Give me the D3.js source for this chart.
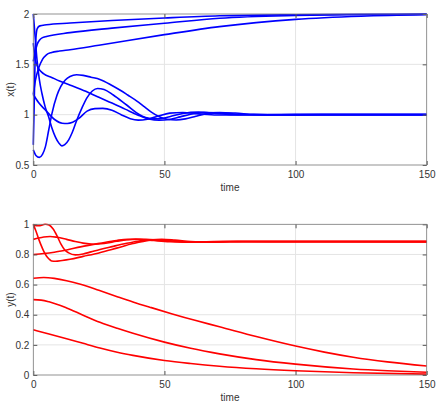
<!DOCTYPE html>
<html>
<head>
<meta charset="utf-8">
<script src="https://cdn.jsdelivr.net/npm/d3@7"></script>
<style>
  body { margin: 0; background: #fff; }
  text { font-family: "Liberation Sans", Arial, sans-serif; }
</style>
</head>
<body>
<div id="chart"></div>
<script>
// tick labels
const timeTicks = [0, 50, 100, 150]
const xTicks = [0.5, 1, 1.5, 2]
const yTicks = [0, 0.2, 0.4, 0.6, 0.8, 1]

// x(t), the runs that go up to 2
const xRun1 = [[0,0.70],[0.3,1.05],[0.6,1.45],[1,1.76],[1.5,1.855],[2.5,1.882],[5,1.893],[14,1.91],[30,1.935],[50,1.96],[71,1.982],[100,1.993],[125,1.997],[150,1.999]]
const xRun2 = [[0,1.53],[0.7,1.62],[1.5,1.7],[2.5,1.745],[3.5,1.765],[5,1.777],[14,1.815],[30,1.86],[50,1.908],[71,1.958],[100,1.985],[125,1.993],[150,1.997]]
const xRun3 = [[0,1.2],[0.8,1.34],[2,1.46],[3.5,1.55],[5,1.595],[7,1.618],[10,1.632],[14,1.645],[25,1.69],[50,1.795],[71,1.875],[100,1.947],[125,1.978],[150,1.992]]
// x(t), the runs that settle at 1
const xRun4 = [[0,0.65],[1,0.595],[2.3,0.576],[3.5,0.605],[4.6,0.68],[5.9,0.85],[7.1,1.01],[9,1.19],[10.5,1.28],[12.2,1.345],[14,1.38],[16.5,1.396],[19,1.39],[22,1.372],[25.4,1.35],[30,1.29],[33,1.245],[36,1.195],[39.5,1.135],[42,1.085],[45,1.025],[48,0.98],[51,0.955],[54.5,0.947],[58,0.958],[62,0.985],[66,1.01],[71,1.022],[77,1.016],[84,1.003],[95,0.997],[110,1.0],[150,1.0]]
const xRun5 = [[0,2.0],[0.5,1.84],[1.4,1.55],[2.3,1.35],[3.3,1.21],[4.5,1.08],[5.9,0.975],[7,0.875],[8.4,0.78],[9.7,0.72],[10.9,0.69],[12,0.702],[13.5,0.75],[14.8,0.82],[16.5,0.94],[18.6,1.07],[20.5,1.17],[22.5,1.235],[24.5,1.26],[27,1.25],[30.5,1.195],[35.6,1.096],[40.7,0.997],[44.5,0.962],[48,0.958],[52,0.98],[57,1.012],[63,1.025],[70,1.012],[78,0.997],[88,0.999],[100,1.0],[150,1.0]]
const xRun6 = [[0,1.2],[2,1.12],[4.6,1.046],[8.4,0.947],[11,0.915],[13,0.913],[15,0.925],[17.5,0.965],[20.5,1.035],[23.5,1.06],[26.5,1.063],[30,1.045],[33.5,1.0],[37,0.96],[40,0.946],[43.5,0.955],[47.5,0.985],[52,1.015],[57,1.022],[63,1.008],[70,0.996],[80,1.0],[150,1.0]]
const xRun7 = [[0,1.71],[0.8,1.545],[2,1.46],[4,1.405],[7,1.37],[10,1.335],[15,1.285],[20,1.232],[25,1.172],[30,1.115],[35,1.055],[40,0.995],[44,0.958],[48,0.944],[52,0.952],[56,0.978],[60,1.005],[65,1.02],[71,1.018],[78,1.004],[88,0.997],[100,1.0],[150,1.0]]

// y(t), the runs that die out
const yRun1 = [[0,0.3],[6,0.272],[12.7,0.241],[19,0.21],[25.4,0.179],[32,0.151],[38,0.13],[50,0.096],[60,0.076],[71,0.058],[85,0.041],[100,0.028],[122,0.015],[150,0.006]]
const yRun2 = [[0,0.5],[3,0.497],[6,0.486],[12.7,0.445],[19,0.397],[25.4,0.35],[32,0.31],[38,0.277],[50,0.218],[60,0.177],[71,0.14],[85,0.102],[100,0.072],[122,0.04],[135,0.028],[150,0.018]]
const yRun3 = [[0,0.642],[4,0.647],[8,0.641],[12.7,0.626],[18,0.602],[25,0.562],[32,0.52],[38,0.485],[45,0.447],[53,0.405],[62,0.361],[71,0.32],[85,0.255],[100,0.192],[111,0.152],[122,0.118],[135,0.087],[150,0.06]]
// y(t), the runs that settle near 0.885
const yRun4 = [[0,0.9],[2,0.909],[4,0.916],[6.4,0.919],[9,0.914],[12.7,0.9],[16,0.886],[19,0.875],[23,0.868],[27,0.873],[31.8,0.887],[35.6,0.897],[39,0.902],[43,0.901],[48,0.895],[54,0.887],[60,0.882],[67,0.883],[75,0.886],[85,0.885],[150,0.885]]
const yRun5 = [[0,1.0],[1.2,0.99],[2.5,0.991],[4.5,1.0],[6,0.995],[7.5,0.97],[9,0.925],[10.5,0.87],[12,0.83],[13.5,0.81],[16,0.797],[19,0.803],[22,0.817],[25.4,0.833],[30,0.852],[35.6,0.874],[40,0.888],[44,0.896],[48,0.896],[52,0.89],[58,0.883],[65,0.882],[72,0.885],[80,0.886],[90,0.885],[150,0.885]]
const yRun6 = [[0,0.8],[4,0.806],[8,0.815],[12.7,0.83],[18,0.85],[25.4,0.874],[31.8,0.893],[36,0.9],[40.7,0.899],[46,0.892],[52,0.885],[58,0.882],[66,0.884],[75,0.886],[150,0.885]]
const yRun7 = [[0,1.0],[1,0.955],[2,0.905],[3,0.86],[4,0.82],[5,0.79],[6,0.77],[7,0.757],[8.5,0.755],[11,0.76],[14,0.768],[19,0.787],[25,0.81],[31.8,0.842],[38,0.872],[44.5,0.895],[49,0.9],[54,0.895],[60,0.886],[67,0.882],[75,0.884],[85,0.886],[150,0.885]]

const xSeries = [xRun1, xRun2, xRun3, xRun4, xRun5, xRun6, xRun7]
const ySeries = [yRun1, yRun2, yRun3, yRun4, yRun5, yRun6, yRun7]

const width = 445
const height = 414
const left = 33.3
const right = 426.7

const svg = d3.select("#chart").append("svg")
    .attr("width", width)
    .attr("height", height)

const x = d3.scaleLinear()
    .domain([0, 150])
    .range([left, right])

function panel(yDomain, top, bottom, ticks, series, color, ylabel) {
    const y = d3.scaleLinear()
        .domain(yDomain)
        .range([bottom, top])

    const g = svg.append("g")

    // grid
    g.append("g")
        .selectAll("line")
        .data(timeTicks.slice(1, -1))
        .join("line")
        .attr("x1", d => x(d)).attr("x2", d => x(d))
        .attr("y1", top).attr("y2", bottom)
        .attr("stroke", "#e4e4e4")
    g.append("g")
        .selectAll("line")
        .data(ticks.slice(1, -1))
        .join("line")
        .attr("y1", d => y(d)).attr("y2", d => y(d))
        .attr("x1", left).attr("x2", right)
        .attr("stroke", "#e4e4e4")

    const line = d3.line()
        .x(d => x(d[0]))
        .y(d => y(d[1]))
        .curve(d3.curveMonotoneX)

    g.append("g")
        .selectAll("path")
        .data(series)
        .join("path")
        .attr("d", line)
        .attr("fill", "none")
        .attr("stroke", color)
        .attr("stroke-width", 1.6)

    const fmt = d => String(d)

    const axes = [
        [d3.axisBottom(x).tickValues(timeTicks).tickFormat(fmt), `translate(0,${bottom})`],
        [d3.axisTop(x).tickValues(timeTicks).tickFormat(""), `translate(0,${top})`],
        [d3.axisLeft(y).tickValues(ticks).tickFormat(fmt), `translate(${left},0)`],
        [d3.axisRight(y).tickValues(ticks).tickFormat(""), `translate(${right},0)`]
    ]
    axes.forEach(([ax, tr], i) => {
        const a = g.append("g")
            .attr("transform", tr)
            .call(ax.tickSizeInner(-4).tickSizeOuter(0).tickPadding(i == 0 ? 6 : 4))
        a.select(".domain").remove()
        a.selectAll("line").attr("stroke", "#555")
        a.selectAll("text").attr("fill", "#333").attr("font-size", 10)
    })

    g.append("rect")
        .attr("x", left).attr("y", top)
        .attr("width", right - left).attr("height", bottom - top)
        .attr("fill", "none")
        .attr("stroke", "#777")
        .attr("stroke-width", 0.8)

    g.append("text")
        .attr("x", (left + right) / 2)
        .attr("y", bottom + 25.5)
        .attr("text-anchor", "middle")
        .attr("font-size", 10)
        .attr("fill", "#333")
        .text("time")

    g.append("text")
        .attr("transform", `translate(14,${(top + bottom) / 2}) rotate(-90)`)
        .attr("text-anchor", "middle")
        .attr("font-size", 10)
        .attr("fill", "#333")
        .text(ylabel)
}

panel([0.5, 2], 14, 165, xTicks, xSeries, "#0000ff", "x(t)")
panel([0, 1], 224.3, 375, yTicks, ySeries, "#ff0000", "y(t)")
</script>
</body>
</html>
